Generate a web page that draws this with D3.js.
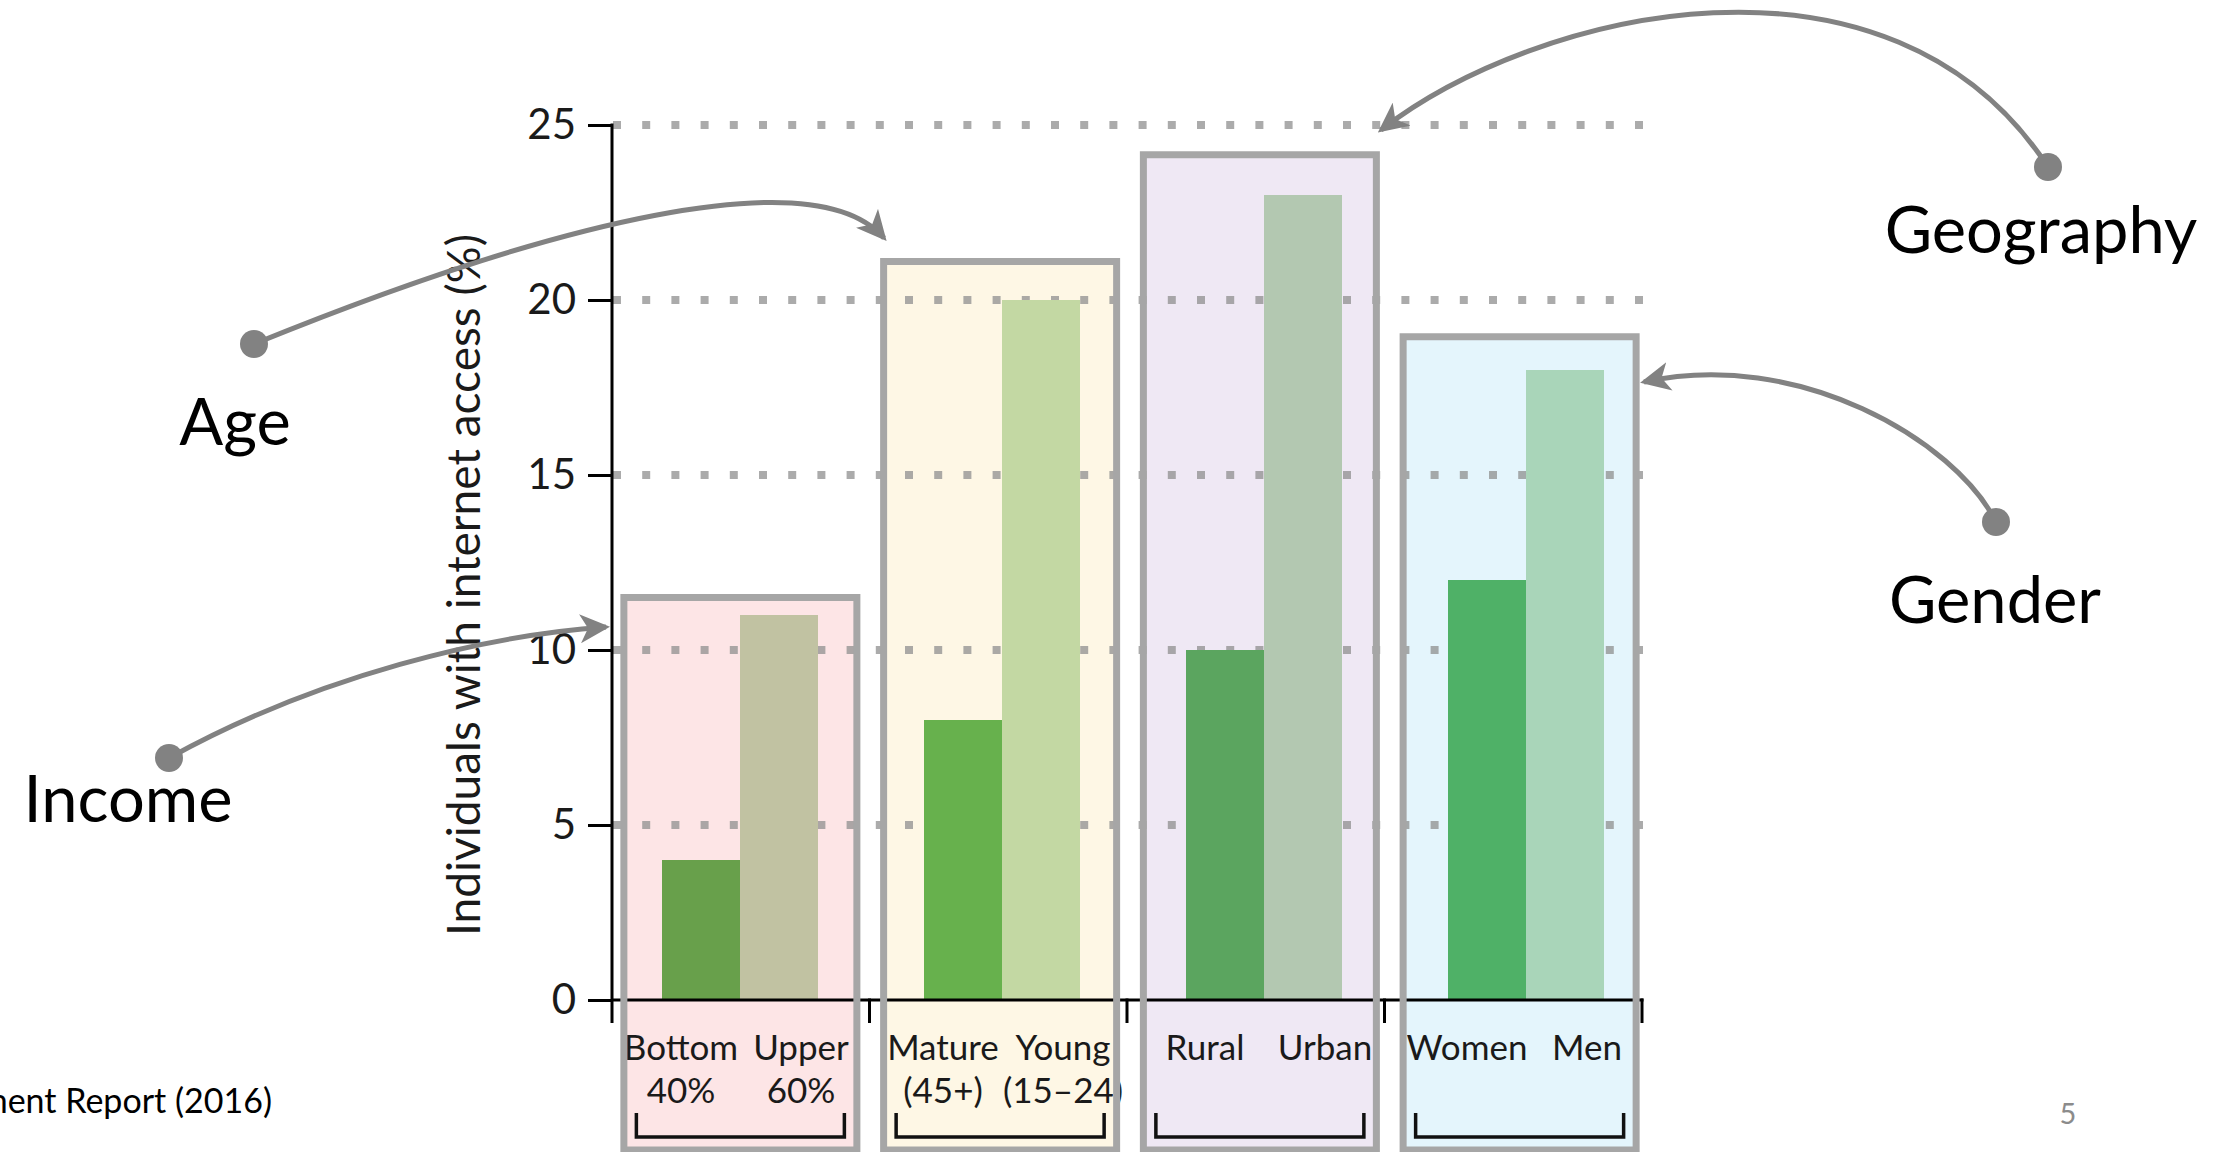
<!DOCTYPE html>
<html>
<head>
<meta charset="utf-8">
<script src="https://cdn.jsdelivr.net/npm/d3@7"></script>
<style>
  html, body { margin: 0; padding: 0; background: #ffffff; }
  svg { display: block; }
</style>
</head>
<body>
<svg id="chart" width="2231" height="1152"></svg>
<script>
// ---- data ----
const groups = ["Income", "Age", "Geography", "Gender"];
const lowerNames = [["Bottom", "40%"], ["Mature", "(45+)"], ["Rural"], ["Women"]];
const upperNames = [["Upper", "60%"], ["Young", "(15–24)"], ["Urban"], ["Men"]];
const lowerValues = [4, 8, 10, 12];
const upperValues = [11, 20, 23, 18];
const yTicks = [0, 5, 10, 15, 20, 25];
const gridTicks = [5, 10, 15, 20, 25];
const highlightTops = [11.5, 21.1, 24.15, 18.95];
const yTitle = "Individuals with internet access (%)";
const sourceNote = "Source: World Development Report (2016)";
const pageNumber = "5";

// ---- styling ----
const lowerColors = ["#68a04b", "#67b14d", "#5ba55f", "#4fb167"];
const upperColors = ["#c1c2a2", "#c3d8a3", "#b3c8b1", "#a9d5b9"];
const boxFills = ["#fde5e6", "#fef7e5", "#efe8f4", "#e4f5fc"];
const chartFont = "Lato, 'Open Sans', sans-serif";
const calloutGrey = "#828282";

const svg = d3.select("#chart");
svg.append("rect").attr("width", 2231).attr("height", 1152).attr("fill", "#ffffff");

// ---- scales ----
const y = d3.scaleLinear().domain([0, 25]).range([1000, 125]);
const xGroup = d3.scaleBand().domain(groups).range([609, 1657]);
const xSide = d3.scaleBand().domain(["lower", "upper"]).range([-78, 78]);
const xSep = d3.scaleLinear().domain([0, groups.length]).range([612, 1642]);
const center = g => xGroup(g) + xGroup.bandwidth() / 2;
const sepCenter = i => (xSep(i) + xSep(i + 1)) / 2;

const rows = [];
groups.forEach((g, i) => {
  rows.push({ group: g, side: "lower", value: lowerValues[i], color: lowerColors[i], names: lowerNames[i] });
  rows.push({ group: g, side: "upper", value: upperValues[i], color: upperColors[i], names: upperNames[i] });
});

// ---- highlight panels (fill) ----
const boxHalf = 120, boxStroke = 7;
const boxes = groups.map((g, i) => {
  const c = (center(g) + sepCenter(i)) / 2;
  return {
    x: c - boxHalf + boxStroke / 2,
    y: y(highlightTops[i]),
    w: boxHalf * 2 - boxStroke,
    fill: boxFills[i]
  };
});
svg.append("g").selectAll("rect").data(boxes).join("rect")
  .attr("x", d => d.x).attr("y", d => d.y)
  .attr("width", d => d.w).attr("height", d => 1150 - d.y)
  .attr("fill", d => d.fill);

// ---- dotted gridlines ----
svg.append("g").selectAll("line").data(gridTicks).join("line")
  .attr("x1", 613).attr("x2", 1648)
  .attr("y1", d => y(d)).attr("y2", d => y(d))
  .attr("stroke", "#8f8f8f").attr("stroke-opacity", 0.75)
  .attr("stroke-width", 8).attr("stroke-dasharray", "8,21.2");

// ---- bars ----
svg.append("g").selectAll("rect").data(rows).join("rect")
  .attr("x", d => center(d.group) + xSide(d.side))
  .attr("width", xSide.bandwidth())
  .attr("y", d => y(d.value))
  .attr("height", d => y(0) - y(d.value))
  .attr("fill", d => d.color);

// ---- y axis ----
const yAxis = d3.axisLeft(y).tickValues(yTicks).tickSize(24).tickPadding(12).tickSizeOuter(0);
const ag = svg.append("g").attr("transform", "translate(612,0)").call(yAxis);
ag.select(".domain").remove();
ag.selectAll(".tick line").attr("stroke", "#000").attr("stroke-width", 3);
ag.selectAll(".tick text")
  .attr("font-family", chartFont).attr("font-size", 42).attr("fill", "#1a1a1a");
svg.append("line")
  .attr("x1", 612).attr("x2", 612).attr("y1", y(25) - 1.5).attr("y2", y(0) + 23)
  .attr("stroke", "#000").attr("stroke-width", 3);

// baseline and group separators
svg.append("line")
  .attr("x1", 612).attr("x2", xSep(groups.length) + 1.5).attr("y1", y(0)).attr("y2", y(0))
  .attr("stroke", "#000").attr("stroke-width", 3);
svg.append("g").selectAll("line").data(d3.range(1, groups.length + 1)).join("line")
  .attr("x1", d => xSep(d)).attr("x2", d => xSep(d))
  .attr("y1", y(0) - 1.5).attr("y2", y(0) + 23)
  .attr("stroke", "#000").attr("stroke-width", 3);

svg.append("text")
  .attr("transform", "translate(480,585) rotate(-90)")
  .attr("text-anchor", "middle")
  .attr("font-family", chartFont).attr("font-size", 46).attr("fill", "#1a1a1a")
  .text(yTitle);

// ---- category labels ----
const labelShift = { lower: -59, upper: 61 };
const lg = svg.append("g").attr("font-family", chartFont)
  .attr("font-size", 35).attr("fill", "#1a1a1a").attr("text-anchor", "middle");
rows.forEach(r => {
  r.names.forEach((line, k) => {
    lg.append("text")
      .attr("x", center(r.group) + labelShift[r.side])
      .attr("y", 1060 + k * 43)
      .text(line);
  });
});

// ---- group brackets ----
svg.append("g").selectAll("path").data(groups).join("path")
  .attr("d", (g, i) => {
    const c = (center(g) + sepCenter(i)) / 2;
    const l = c - 104, r = c + 104;
    return `M${l},1113 V1137 H${r} V1113`;
  })
  .attr("fill", "none").attr("stroke", "#111").attr("stroke-width", 3.5);

// ---- highlight panels (outline) ----
svg.append("g").selectAll("rect").data(boxes).join("rect")
  .attr("x", d => d.x).attr("y", d => d.y)
  .attr("width", d => d.w).attr("height", d => 1150 - d.y)
  .attr("fill", "none").attr("stroke", "#a6a6a6").attr("stroke-width", boxStroke);

// ---- callouts ----
const defs = svg.append("defs");
defs.append("marker")
  .attr("id", "head").attr("markerUnits", "userSpaceOnUse")
  .attr("viewBox", "0 0 30 29").attr("markerWidth", 30).attr("markerHeight", 29)
  .attr("refX", 26).attr("refY", 14.5).attr("orient", "auto")
  .append("path").attr("d", "M0,0 L30,14.5 L0,29 L8,14.5 Z").attr("fill", calloutGrey);

const callouts = [
  { label: "Income", tx: 128, ty: 822, pts: [[169, 758], [319, 675], [489, 635], [606, 627]] },
  { label: "Age", tx: 235, ty: 445, pts: [[254, 344], [554, 222], [815, 158], [884, 238]] },
  { label: "Geography", tx: 2041, ty: 253, pts: [[2048, 167], [1890, -75], [1536, 10], [1381, 130]] },
  { label: "Gender", tx: 1995, ty: 623, pts: [[1996, 522], [1955, 440], [1797, 348], [1644, 382]] }
];
const cg = svg.append("g");
callouts.forEach(c => {
  const p = d3.path();
  const [a, b, d, e] = c.pts;
  p.moveTo(a[0], a[1]);
  p.bezierCurveTo(b[0], b[1], d[0], d[1], e[0], e[1]);
  cg.append("path").attr("d", p.toString())
    .attr("fill", "none").attr("stroke", calloutGrey).attr("stroke-width", 5)
    .attr("marker-end", "url(#head)");
  cg.append("circle").attr("cx", a[0]).attr("cy", a[1]).attr("r", 14).attr("fill", calloutGrey);
  cg.append("text").attr("x", c.tx).attr("y", c.ty)
    .attr("text-anchor", "middle").attr("font-family", chartFont)
    .attr("font-size", 65).attr("fill", "#000").text(c.label);
});

// ---- footer ----
svg.append("text").attr("x", 272).attr("y", 1113).attr("text-anchor", "end")
  .attr("font-family", chartFont).attr("font-size", 34).attr("fill", "#000").text(sourceNote);
svg.append("text").attr("x", 2068).attr("y", 1124).attr("text-anchor", "middle")
  .attr("font-family", chartFont).attr("font-size", 29).attr("fill", "#8b8b8b").text(pageNumber);
</script>
</body>
</html>
